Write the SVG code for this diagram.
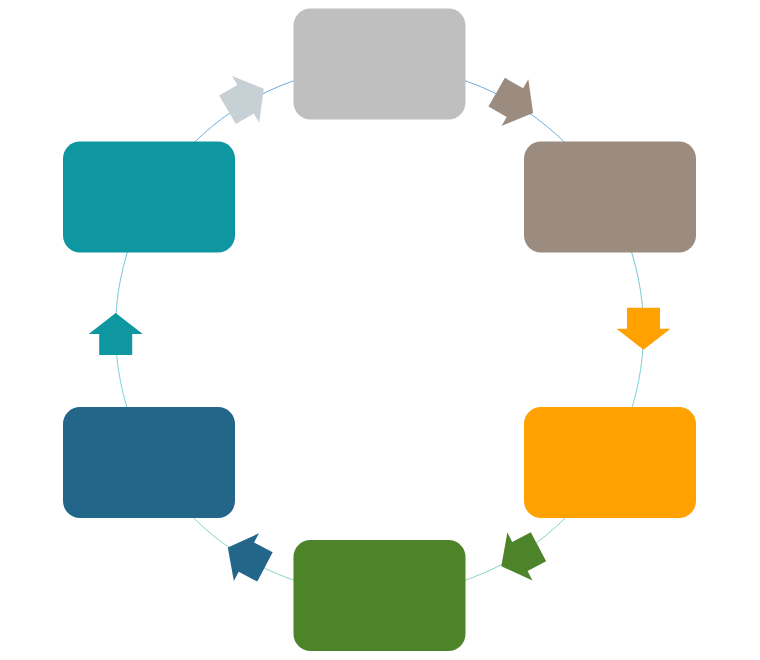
<svg xmlns="http://www.w3.org/2000/svg" width="760" height="660" viewBox="0 0 760 660">
  <defs>
    <linearGradient id="ring" x1="0" y1="0" x2="0" y2="1">
      <stop offset="0" stop-color="#6AA6DE"/>
      <stop offset="0.5" stop-color="#7CCFD8"/>
      <stop offset="1" stop-color="#8AD4BE"/>
    </linearGradient>
    <path id="arrow" d="M-16.5,-21 L16.5,-21 L16.5,0 L27,0 L0,21 L-27,0 L-16.5,0 Z"/>
  </defs>
  <style>
    .box { stroke: none; }
  </style>
  <rect width="760" height="660" fill="#FFFFFF"/>
  <g id="connectors">
    <circle cx="379.5" cy="330.5" r="264" fill="none" stroke="url(#ring)" stroke-width="1"/>
    <use href="#arrow" fill="#9C8B7F" transform="translate(514.9,102.6) rotate(-60.2)"/>
    <use href="#arrow" fill="#FFA100" transform="translate(643.5,328.7) rotate(0)"/>
    <use href="#arrow" fill="#4D8429" transform="translate(519.9,556.5) rotate(62.3)"/>
    <use href="#arrow" fill="#236689" transform="translate(246.4,557.2) rotate(117.7)"/>
    <use href="#arrow" fill="#0E97A1" transform="translate(115.7,334) rotate(180)"/>
    <use href="#arrow" fill="#C7D0D5" transform="translate(245.6,99.3) rotate(239.8)"/>
  </g>
  <g id="node-top"><rect class="box" x="293.5" y="8.5" width="172" height="111" rx="17" fill="#BFBFBF"/></g>
  <g id="node-top-right"><rect class="box" x="524" y="141.5" width="172" height="111" rx="17" fill="#9C8B7F"/></g>
  <g id="node-bottom-right"><rect class="box" x="524" y="407" width="172" height="111" rx="17" fill="#FFA100"/></g>
  <g id="node-bottom"><rect class="box" x="293.5" y="540" width="172" height="111" rx="17" fill="#4D8429"/></g>
  <g id="node-bottom-left"><rect class="box" x="63" y="407" width="172" height="111" rx="17" fill="#236689"/></g>
  <g id="node-top-left"><rect class="box" x="63" y="141.5" width="172" height="111" rx="17" fill="#0E97A1"/></g>
</svg>
